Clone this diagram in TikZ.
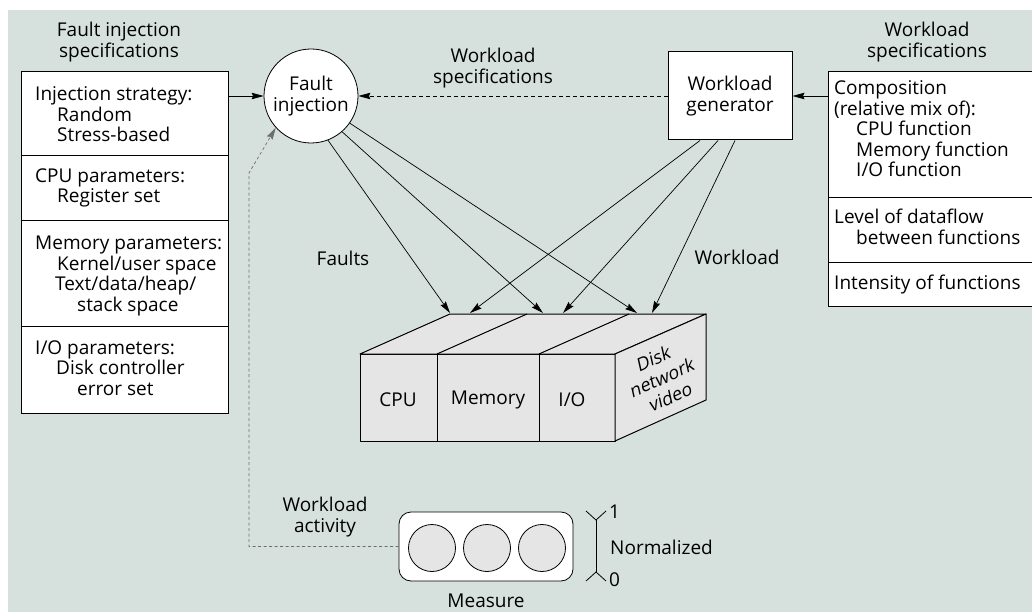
\documentclass[tikz,border=0pt]{standalone}
\usepackage{fontspec}
\setmainfont{Open Sans}
\newfontfamily\slantfont{Open Sans}[FakeSlant=0.2]
\usetikzlibrary{arrows.meta,calc,positioning}
\definecolor{bgcol}{RGB}{214,225,221}
\definecolor{facecol}{RGB}{229,229,229}
\definecolor{actcol}{RGB}{110,110,110}

\begin{document}
\begin{tikzpicture}[x=1pt,y=-1pt,font=\fontsize{19}{20.5}\selectfont,
  box/.style={draw,line width=1pt,fill=white,inner sep=0pt},
  arr/.style={-{Stealth[length=12pt,width=6.5pt,inset=1.5pt]},line width=0.7pt},
  face/.style={draw,line width=1pt,fill=facecol,line join=round},
  txt/.style={inner sep=0pt,anchor=base west,align=left}]
\useasboundingbox (0,0) rectangle (1032,612);
\fill[bgcol] (8,10) rectangle (1032,612);
\node[box,minimum width=207pt,minimum height=342pt,anchor=north west] (fspec) at (21,71) {};
\draw[line width=1pt] (21,156) -- (228,156);
\draw[line width=1pt] (21,221) -- (228,221);
\draw[line width=1pt] (21,326) -- (228,326);
\node[box,minimum width=206pt,minimum height=235pt,anchor=north west] (wspec) at (828,71) {};
\draw[line width=1pt] (828,198) -- (1034,198);
\draw[line width=1pt] (828,262) -- (1034,262);
\node[align=center] (ftitle) at (119,42) {Fault injection\\specifications};
\node[align=center] (wtitle) at (927,42) {Workload\\specifications};
\node[txt] (s1) at (35,142) {Injection strategy:\\\hspace*{22pt}Random\\\hspace*{22pt}Stress-based};
\node[txt] (s2) at (35,203) {CPU parameters:\\\hspace*{22pt}Register set};
\node[txt] (s3) at (35,311) {Memory parameters:\\\hspace*{22pt}Kernel/user space\\\hspace*{20pt}Text/data/heap/\\\hspace*{42pt}stack space};
\node[txt] (s4) at (35,395) {I/O parameters:\\\hspace*{21pt}Disk controller\\\hspace*{42pt}error set};
\node[txt] (r1) at (834,177) {Composition\\(relative mix of):\\\hspace*{22pt}CPU function\\\hspace*{22pt}Memory function\\\hspace*{22pt}I/O function};
\node[txt] (r2) at (834,244) {Level of dataflow\\\hspace*{22pt}between functions};
\node[txt] (r3) at (834,289) {Intensity of functions};
\node[draw,circle,fill=white,line width=0.8pt,minimum size=94pt,inner sep=0pt,align=center] (fi) at (311,96) {Fault\\injection};
\node[box,minimum width=124pt,minimum height=88pt,align=center] (wgen) at (730,96) {Workload\\generator};
\node[align=center] (wslabel) at (493,68) {Workload\\specifications};
\draw[arr] (fspec.east |- fi) -- (fi);
\draw[arr] (wspec.west |- wgen) -- (wgen);
\draw[arr,dash pattern=on 4pt off 3pt] (wgen) -- (fi);
\coordinate (A) at (360,354);
\coordinate (B) at (615,354);
\coordinate (C) at (615,441);
\coordinate (A2) at (450,314);
\coordinate (B2) at (706,314);
\coordinate (C2) at (706,400);
\draw[face] (A) rectangle (C);
\draw[face] (A) -- (A2) -- (B2) -- (B) -- cycle;
\draw[face] (B) -- (B2) -- (C2) -- (C) -- cycle;
\draw[line width=1pt] (437,354) -- (437,441);
\draw[line width=1pt] (539,354) -- (539,441);
\draw[line width=1pt] (437,354) -- (527,314);
\draw[line width=1pt] (539,354) -- (629,314);
\node (cpu) at (398,400) {CPU};
\node (mem) at (488,400) {Memory};
\node (io) at (572,400) {I/O};
\node[rotate=24,align=center,inner sep=0pt,font=\fontsize{18}{21}\slantfont] (disk) at (661,378) {Disk\\network\\video};
\coordinate (t1) at (450,313);
\coordinate (t2) at (543,313);
\coordinate (t3) at (637,313);
\coordinate (u1) at (470,313);
\coordinate (u2) at (563,313);
\coordinate (u3) at (652,313);
\draw[arr] (fi.-69) -- (t1);
\draw[arr] (fi.-49) -- (t2);
\draw[arr] (fi.-35) -- (t3);
\draw[arr] ($(wgen.south)+(-30,0)$) -- (u1);
\draw[arr] ($(wgen.south)+(-12,0)$) -- (u2);
\draw[arr] ($(wgen.south)+(5,0)$) -- (u3);
\node (faults) at (343,258) {Faults};
\node (wload) at (737,257) {Workload};
\node[draw,fill=white,rounded corners=12pt,minimum width=174pt,minimum height=69pt,line width=0.8pt] (meas) at (486,546.5) {};
\foreach \i/\x in {1/432,2/487,3/542}
  \node[draw,circle,fill=facecol,minimum size=47pt,inner sep=0pt,line width=0.8pt] (m\i) at (\x,548) {};
\node (mlabel) at (486,601) {Measure};
\coordinate (bend) at (249,173);
\draw[arr,actcol,dash pattern=on 3pt off 2.5pt] (meas.west) -| (bend) -- (fi.222);
\node[align=center] (actlabel) at (325,517) {Workload\\activity};
\coordinate (ntop) at (596,520);
\coordinate (nbot) at (596,572);
\draw[line width=0.8pt] (ntop) -- (nbot);
\draw[line width=0.8pt] (586,511) -- (ntop) -- (606,511);
\draw[line width=0.8pt] (586,581) -- (nbot) -- (606,581);
\node[anchor=west,inner sep=0pt] (one) at (609,512) {1};
\node[anchor=west,inner sep=0pt] (zero) at (609,580) {0};
\node[anchor=west,inner sep=0pt] (norm) at (610,547) {Normalized};
\end{tikzpicture}
\end{document}
